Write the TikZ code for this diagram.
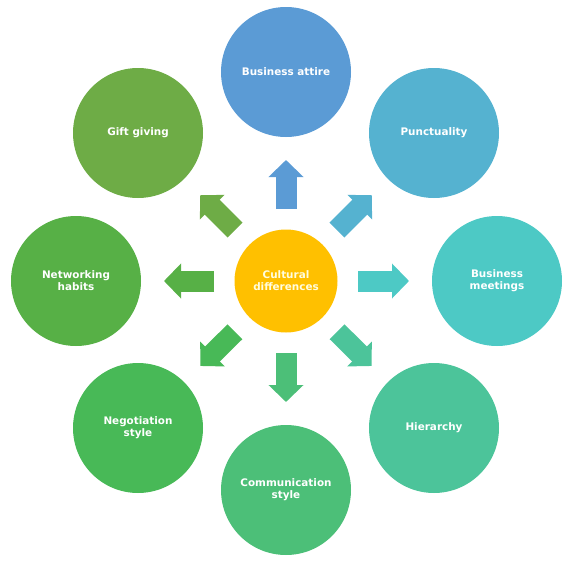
\documentclass[tikz,border=0pt]{standalone}
\usepackage{fontspec}
\setmainfont{DejaVu Sans}
\usetikzlibrary{arrows.meta}
\definecolor{cAttire}{HTML}{5B9BD5}
\definecolor{cPunct}{HTML}{55B2D0}
\definecolor{cMeet}{HTML}{4DC9C5}
\definecolor{cHier}{HTML}{4CC49A}
\definecolor{cComm}{HTML}{4CBF78}
\definecolor{cNego}{HTML}{48B957}
\definecolor{cNet}{HTML}{57B046}
\definecolor{cGift}{HTML}{6EAC46}
\definecolor{cCenter}{HTML}{FFC000}
\tikzset{
  outer/.style={circle, fill=#1, draw=none, minimum size=130pt, inner sep=0pt,
    text=white, align=center, font=\fontsize{10.4}{11.8}\selectfont\bfseries},
  hub/.style={circle, fill=cCenter, draw=none, minimum size=103pt, inner sep=0pt,
    text=white!88!yellow, align=center, font=\fontsize{10.4}{11.8}\selectfont\bfseries},
  blockarrow/.style={draw=#1, line width=21pt, line cap=butt,
    -{Triangle[length=17pt,width=34pt]}, shorten <=72pt, shorten >=88pt}
}
\begin{document}
\begin{tikzpicture}[x=1pt,y=-1pt]
\useasboundingbox (0,0) rectangle (576,562);
\node[hub] (c) at (286,281) {Cultural\\differences};
\node[outer=cAttire] (attire) at (286,72) {Business attire};
\node[outer=cPunct] (punct) at (434,133) {Punctuality};
\node[outer=cMeet] (meet) at (497,281) {Business\\meetings};
\node[outer=cHier] (hier) at (434,428) {Hierarchy};
\node[outer=cComm] (comm) at (286,490) {Communication\\style};
\node[outer=cNego] (nego) at (138,428) {Negotiation\\style};
\node[outer=cNet] (net) at (76,281) {Networking\\habits};
\node[outer=cGift] (gift) at (138,133) {Gift giving};
\foreach \t/\col in {attire/cAttire, punct/cPunct, meet/cMeet, hier/cHier,
  comm/cComm, nego/cNego, net/cNet, gift/cGift}{
  \draw[blockarrow=\col] (c.center) -- (\t.center);
}
\end{tikzpicture}
\end{document}
